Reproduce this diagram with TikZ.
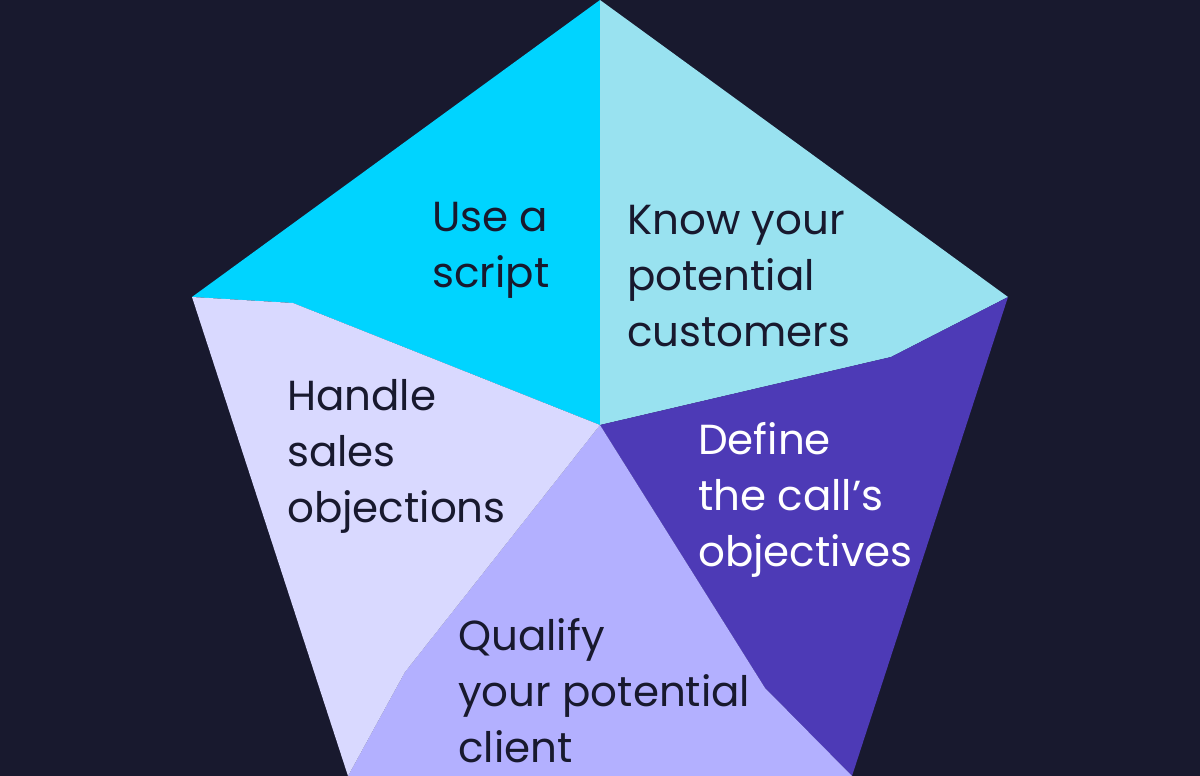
\documentclass[tikz,border=0pt]{standalone}
\usepackage{fontspec}
\setmainfont{Poppins}
\usepackage{tikz}
\definecolor{bgnavy}{RGB}{24,25,46}
\definecolor{ink}{RGB}{24,25,46}
\definecolor{cyanpart}{RGB}{0,212,255}
\definecolor{skypart}{RGB}{153,226,240}
\definecolor{violetpart}{RGB}{77,58,182}
\definecolor{lavpart}{RGB}{179,176,255}
\definecolor{palepart}{RGB}{217,217,255}

\begin{document}
\begin{tikzpicture}[x=1pt,y=-1pt,
lbl/.style={anchor=base west,inner sep=0pt,align=left,text=ink,
    font=\fontsize{42}{56}\selectfont}]
\fill[bgnavy] (0,0) rectangle (1200,776);
\useasboundingbox (0,0) rectangle (1200,776);
% corners of the pentagon
\coordinate (ctr) at (600,425);
\coordinate (top) at (600,0);
\coordinate (rgt) at (1008,297);
\coordinate (brt) at (852,776);
\coordinate (blt) at (348,776);
\coordinate (lft) at (192,297);
% bends of the inner borders
\coordinate (kl) at (293,303);
\coordinate (kr) at (891,357);
\coordinate (kbr) at (765,688);
\coordinate (kbl) at (405,672);

\fill[cyanpart] (top) -- (ctr) -- (kl) -- (lft) -- cycle;
\fill[skypart] (top) -- (rgt) -- (kr) -- (ctr) -- cycle;
\fill[violetpart] (ctr) -- (kr) -- (rgt) -- (brt) -- (kbr) -- cycle;
\fill[lavpart] (ctr) -- (kbr) -- (brt) -- (blt) -- (kbl) -- cycle;
\fill[palepart] (ctr) -- (kbl) -- (blt) -- (lft) -- (kl) -- cycle;

% base anchor sits on the last line
\node (script) [lbl] at (432,287) {Use a\\script};
\node (know) [lbl] at (627,346) {Know your\\potential\\customers};
\node (define) [lbl,text=white] at (698,566) {Define\\the call’s\\objectives};
\node (qualify) [lbl] at (458,762) {Qualify\\your potential\\client};
\node (handle) [lbl] at (287,522) {Handle\\sales\\objections};
\end{tikzpicture}
\end{document}
